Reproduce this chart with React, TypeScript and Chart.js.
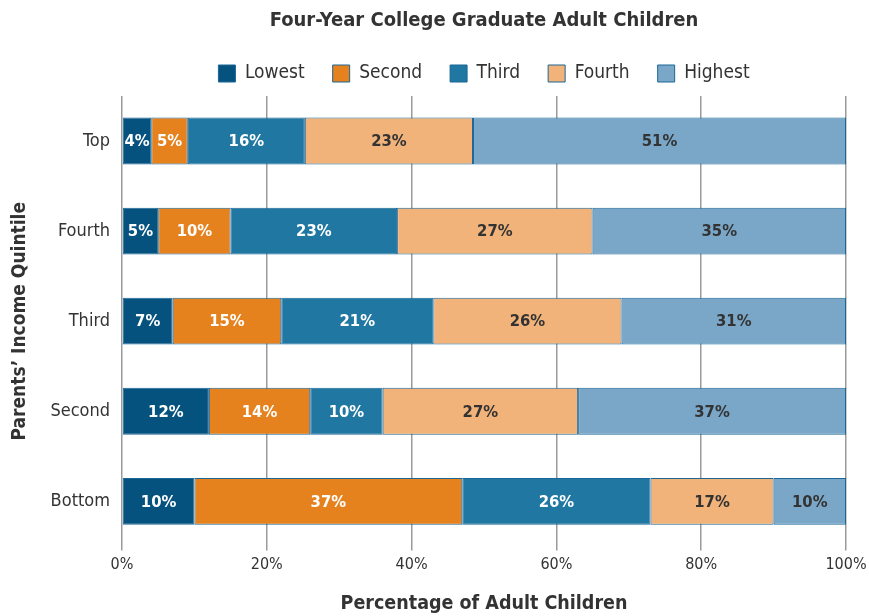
import React, { useEffect, useRef } from "react";
import { Chart, registerables } from "chart.js";

Chart.register(...registerables);

const categories = ["Top", "Fourth", "Third", "Second", "Bottom"];
const seriesNames = ["Lowest", "Second", "Third", "Fourth", "Highest"];
const lowest = [4, 5, 7, 12, 10];
const second = [5, 10, 15, 14, 37];
const third = [16, 23, 21, 10, 26];
const fourth = [23, 27, 26, 27, 17];
const highest = [51, 35, 31, 37, 10];
const xTicks = [0, 20, 40, 60, 80, 100];

const colors = ["#06527f", "#e6821e", "#1f77a2", "#f2b37b", "#7aa7c8"];
const labelColors = ["#ffffff", "#ffffff", "#ffffff", "#333333", "#333333"];
const FONT = "'Liberation Sans Narrow', 'DejaVu Sans Condensed', 'Arial Narrow', sans-serif";

export default function App() {
  const ref = useRef<HTMLCanvasElement>(null);
  useEffect(() => {
    const raw = [lowest, second, third, fourth, highest];
    const totals = categories.map((_, i) => raw.reduce((s, a) => s + a[i], 0));
    const datasets = raw.map((arr, k) => ({
      label: seriesNames[k],
      data: arr.map((v, i) => (v / totals[i]) * 100),
      rawValues: arr,
      backgroundColor: colors[k],
      borderColor: "#1b6696",
      borderWidth: 1,
      borderSkipped: false,
      categoryPercentage: 1,
      barPercentage: 0.52,
    }));
    const labelPlugin = {
      id: "segLabels",
      afterDatasetsDraw(chart: any) {
        const ctx = chart.ctx;
        ctx.save();
        ctx.font = `bold 16.5px ${FONT}`;
        ctx.textAlign = "center";
        ctx.textBaseline = "middle";
        chart.data.datasets.forEach((ds: any, k: number) => {
          const meta = chart.getDatasetMeta(k);
          meta.data.forEach((el: any, i: number) => {
            ctx.fillStyle = labelColors[k];
            ctx.fillText(ds.rawValues[i] + "%", (el.x + el.base) / 2, el.y + 1);
          });
        });
        ctx.restore();
      },
    };
    const legendGap = {
      id: "legendGap",
      beforeLayout(chart: any) {
        const lg = chart.legend;
        if (lg && !lg.__patched) {
          const orig = lg.fit;
          lg.fit = function () {
            orig.call(this);
            this.height += 3;
          };
          lg.__patched = true;
        }
      },
    };
    const chart = new Chart(ref.current!, {
      type: "bar",
      data: { labels: categories, datasets: datasets as any },
      options: {
        indexAxis: "y",
        animation: false,
        responsive: false,
        layout: { padding: { left: 9, right: 0, top: 5, bottom: 0 } },
        plugins: {
          title: {
            display: true,
            text: "Four-Year College Graduate Adult Children",
            font: { family: FONT, size: 20, weight: "bold" },
            color: "#333333",
            padding: { top: 4, bottom: 3 },
            fullSize: false,
          },
          legend: {
            fullSize: false,
            labels: {
              font: { family: FONT, size: 19 },
              color: "#333333",
              boxWidth: 17,
              boxHeight: 17,
              padding: 28,
            },
          },
          tooltip: { enabled: false },
        },
        scales: {
          x: {
            stacked: true,
            min: 0,
            max: 100,
            afterBuildTicks: (s: any) => {
              s.ticks = xTicks.map((v) => ({ value: v }));
            },
            afterFit: (s: any) => {
              s.paddingRight = 23;
            },
            ticks: {
              callback: (v: any) => v + "%",
              font: { family: FONT, size: 16 },
              color: "#333333",
              padding: 5,
            },
            grid: { color: "#9a9a9a", lineWidth: 1.5, tickLength: 4 },
            border: { display: false },
            title: {
              display: true,
              text: "Percentage of Adult Children",
              font: { family: FONT, size: 19.5, weight: "bold" },
              color: "#333333",
              padding: { top: 13, bottom: 0 },
            },
          },
          y: {
            stacked: true,
            grid: { display: false },
            border: { display: false },
            ticks: {
              font: { family: FONT, size: 18 },
              color: "#333333",
              padding: 4,
            },
            title: {
              display: true,
              text: "Parents\u2019 Income Quintile",
              font: { family: FONT, size: 19, weight: "bold" },
              color: "#333333",
              padding: { top: 0, bottom: 0 },
            },
            afterFit: (s: any) => {
              s.width = 113;
            },
          },
        },
      },
      plugins: [labelPlugin, legendGap],
    });
    return () => chart.destroy();
  }, []);
  return (
    <div style={{ position: "fixed", left: 0, top: 0, width: 869, height: 616, background: "#fff" }}>
      <canvas ref={ref} width={869} height={616} style={{ width: 869, height: 616 }} />
    </div>
  );
}
